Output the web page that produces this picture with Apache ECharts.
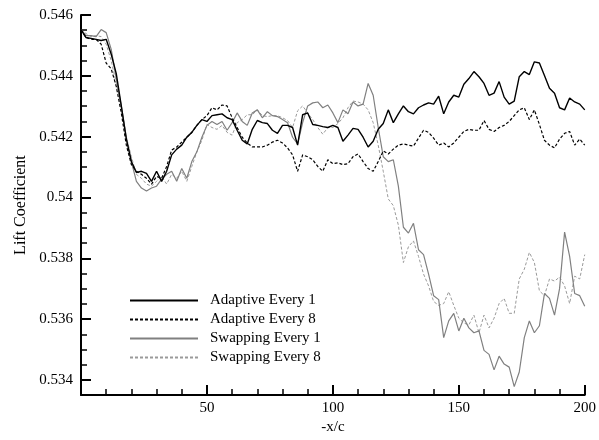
<!DOCTYPE html>
<html><head><meta charset="utf-8">
<script src="https://cdn.jsdelivr.net/npm/echarts@6/dist/echarts.min.js"></script>
<style>html,body{margin:0;padding:0;background:#fff}#c{width:599px;height:440px}</style>
</head><body><div id="c"></div>
<script>
const xValues = [0,2,4,6,8,10,12,14,16,18,20,22,24,26,28,30,32,34,36,38,40,42,44,46,48,50,52,54,56,58,60,62,64,66,68,70,72,74,76,78,80,82,84,86,88,90,92,94,96,98,100,102,104,106,108,110,112,114,116,118,120,122,124,126,128,130,132,134,136,138,140,142,144,146,148,150,152,154,156,158,160,162,164,166,168,170,172,174,176,178,180,182,184,186,188,190,192,194,196,198,200];

const adaptiveEvery1 = [0.54552,0.54526,0.54523,0.54520,0.54516,0.54520,0.54471,0.54407,0.54301,0.54192,0.54118,0.54082,0.54086,0.54079,0.54053,0.54086,0.54053,0.54086,0.54140,0.54159,0.54172,0.54198,0.54214,0.54237,0.54256,0.54250,0.54269,0.54272,0.54275,0.54262,0.54256,0.54221,0.54188,0.54176,0.54224,0.54253,0.54246,0.54243,0.54221,0.54211,0.54237,0.54237,0.54230,0.54172,0.54272,0.54278,0.54240,0.54237,0.54233,0.54230,0.54237,0.54230,0.54185,0.54205,0.54227,0.54224,0.54198,0.54166,0.54185,0.54224,0.54243,0.54288,0.54246,0.54275,0.54301,0.54282,0.54275,0.54295,0.54304,0.54311,0.54307,0.54333,0.54275,0.54314,0.54336,0.54330,0.54372,0.54391,0.54414,0.54397,0.54375,0.54336,0.54343,0.54381,0.54330,0.54307,0.54317,0.54397,0.54414,0.54404,0.54446,0.54442,0.54401,0.54359,0.54343,0.54295,0.54288,0.54327,0.54314,0.54307,0.54288];

const adaptiveEvery8 = [0.54552,0.54526,0.54520,0.54520,0.54504,0.54442,0.54423,0.54365,0.54278,0.54172,0.54108,0.54086,0.54076,0.54063,0.54044,0.54069,0.54063,0.54102,0.54156,0.54166,0.54182,0.54198,0.54214,0.54237,0.54256,0.54269,0.54295,0.54288,0.54304,0.54301,0.54262,0.54230,0.54198,0.54179,0.54166,0.54166,0.54166,0.54172,0.54182,0.54188,0.54179,0.54163,0.54140,0.54086,0.54140,0.54134,0.54124,0.54102,0.54086,0.54124,0.54111,0.54114,0.54108,0.54111,0.54134,0.54143,0.54118,0.54095,0.54086,0.54118,0.54153,0.54143,0.54159,0.54172,0.54176,0.54172,0.54169,0.54195,0.54221,0.54214,0.54195,0.54172,0.54179,0.54166,0.54179,0.54198,0.54217,0.54224,0.54221,0.54221,0.54253,0.54224,0.54217,0.54230,0.54237,0.54250,0.54269,0.54288,0.54295,0.54256,0.54288,0.54240,0.54188,0.54172,0.54163,0.54192,0.54211,0.54217,0.54172,0.54192,0.54172];

const swappingEvery1 = [0.54552,0.54532,0.54532,0.54529,0.54552,0.54542,0.54487,0.54391,0.54301,0.54198,0.54118,0.54053,0.54031,0.54021,0.54031,0.54037,0.54060,0.54076,0.54086,0.54053,0.54095,0.54063,0.54118,0.54150,0.54198,0.54237,0.54250,0.54240,0.54250,0.54221,0.54246,0.54278,0.54250,0.54237,0.54278,0.54288,0.54262,0.54282,0.54269,0.54266,0.54256,0.54246,0.54198,0.54176,0.54246,0.54301,0.54311,0.54314,0.54295,0.54304,0.54278,0.54246,0.54288,0.54275,0.54314,0.54301,0.54307,0.54375,0.54336,0.54230,0.54134,0.54118,0.54124,0.54037,0.53902,0.53883,0.53915,0.53828,0.53812,0.53748,0.53677,0.53664,0.53539,0.53594,0.53619,0.53561,0.53603,0.53571,0.53555,0.53561,0.53497,0.53484,0.53433,0.53478,0.53452,0.53442,0.53378,0.53426,0.53539,0.53594,0.53555,0.53578,0.53684,0.53668,0.53613,0.53700,0.53886,0.53806,0.53684,0.53677,0.53642];

const swappingEvery8 = [0.54552,0.54539,0.54529,0.54532,0.54529,0.54504,0.54449,0.54375,0.54295,0.54198,0.54134,0.54076,0.54063,0.54044,0.54037,0.54053,0.54069,0.54044,0.54076,0.54063,0.54086,0.54053,0.54102,0.54150,0.54188,0.54240,0.54230,0.54224,0.54237,0.54214,0.54205,0.54246,0.54256,0.54272,0.54272,0.54288,0.54269,0.54266,0.54269,0.54269,0.54262,0.54253,0.54230,0.54285,0.54301,0.54278,0.54256,0.54230,0.54208,0.54230,0.54230,0.54243,0.54262,0.54295,0.54317,0.54314,0.54307,0.54288,0.54246,0.54172,0.54086,0.53995,0.53973,0.53909,0.53786,0.53838,0.53857,0.53806,0.53748,0.53709,0.53658,0.53645,0.53651,0.53690,0.53645,0.53603,0.53587,0.53581,0.53613,0.53555,0.53613,0.53571,0.53603,0.53651,0.53668,0.53619,0.53619,0.53732,0.53764,0.53819,0.53786,0.53693,0.53677,0.53732,0.53725,0.53738,0.53709,0.53651,0.53741,0.53732,0.53812];

const seriesNames = ['Adaptive Every 1','Adaptive Every 8','Swapping Every 1','Swapping Every 8'];
const xTickLabels = [50,100,150,200];
const yTickLabels = [0.534,0.536,0.538,0.540,0.542,0.544,0.546];
const xTitle = '-x/c';
const yTitle = 'Lift Coefficient';

const FONT = 'Liberation Serif, Times New Roman, serif';
const allValues = [adaptiveEvery1, adaptiveEvery8, swappingEvery1, swappingEvery8];
const styles = [
  {color:'#000000', width:1.4, type:'solid'},
  {color:'#000000', width:1.2, type:[3,2]},
  {color:'#808080', width:1.2, type:'solid'},
  {color:'#9a9a9a', width:1.0, type:[3,2]}
];

function isIn(list, v){ return list.some(t => Math.abs(t - v) < 1e-7); }

const chart = echarts.init(document.getElementById('c'), null, {renderer:'canvas'});
chart.setOption({
  animation:false,
  backgroundColor:'#ffffff',
  grid:{left:81, right:14, top:15, bottom:37, containLabel:false},
  legend:{
    orient:'vertical', left:129, top:293, padding:0,
    itemWidth:68, itemHeight:14, itemGap:4,
    data:seriesNames,
    itemStyle:{opacity:0},
    textStyle:{fontFamily:FONT, fontSize:15, color:'#000', padding:[0,0,0,7]}
  },
  xAxis:{
    type:'value', min:0, max:200, interval:50,
    name:xTitle, nameLocation:'middle', nameGap:21,
    nameTextStyle:{fontFamily:FONT, fontSize:15, color:'#000'},
    axisLine:{show:true, onZero:false, lineStyle:{color:'#000', width:2}},
    axisTick:{show:true, inside:true, length:10, lineStyle:{color:'#000', width:2}},
    minorTick:{show:true, splitNumber:5, length:6, lineStyle:{color:'#000', width:1.5}},
    splitLine:{show:false},
    axisLabel:{fontFamily:FONT, fontSize:15, color:'#000', margin:5,
      formatter:v => isIn(xTickLabels, v) ? String(v) : ''}
  },
  yAxis:[{
    type:'value', min:0.5335, max:0.546, splitNumber:6, scale:true,
    name:yTitle, nameLocation:'middle', nameGap:48, nameRotate:90,
    nameTextStyle:{fontFamily:FONT, fontSize:16, color:'#000'},
    axisLine:{show:true, onZero:false, lineStyle:{color:'#000', width:2}},
    axisTick:{show:true, inside:true, length:10, lineStyle:{color:'#000', width:2}},
    splitLine:{show:false},
    axisLabel:{fontFamily:FONT, fontSize:15, color:'#000', margin:8,
      formatter:v => isIn(yTickLabels, v) ? String(+v.toFixed(3)) : ''}
  },{
    type:'value', min:0.5335, max:0.546, interval:0.0005, position:'left',
    axisLine:{show:false},
    axisTick:{show:true, inside:true, length:6, lineStyle:{color:'#000', width:1.5}},
    splitLine:{show:false},
    axisLabel:{show:false}
  }],
  series: seriesNames.map((name,i)=>({
    name:name, type:'line', symbol:'none', yAxisIndex:0,
    data: xValues.map((x,j)=>[x, allValues[i][j]]),
    lineStyle:styles[i], itemStyle:{color:styles[i].color},
    z: 4 - i
  }))
});
</script></body></html>
